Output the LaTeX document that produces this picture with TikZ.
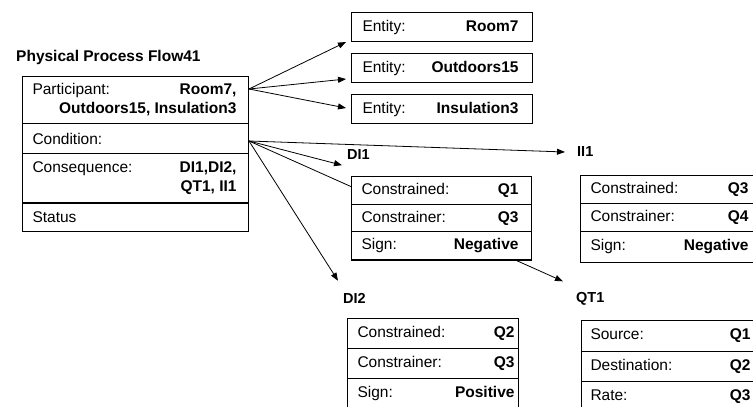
\documentclass[tikz,border=0pt]{standalone}
\usepackage{fontspec}
\setmainfont{Liberation Sans}
\usetikzlibrary{arrows.meta,calc}

\pgfdeclarelayer{bg}
\pgfsetlayers{bg,main}

% one row of a record: label on the left, bold value on the right
\newdimen\cellw \newdimen\padl \newdimen\padr
\newcommand{\valfont}{\fontsize{15.5}{19}\selectfont\bfseries}
\newcommand{\fld}[2]{\hbox to\cellw{\hskip\padl\relax #1\hfil{\valfont #2}\hskip\padr\relax}}
% a row whose value runs over two lines
\newcommand{\fldii}[3]{\vbox{\fld{#1}{#2}\fld{}{#3}}}
% width and paddings of the rows of the next record
\newcommand{\recordgeom}[3]{\global\cellw=#1pt\relax\global\padl=#2pt\relax\global\padr=#3pt\relax}

\tikzset{
  cell/.style={draw=black, line width=1pt, fill=white, anchor=north west,
               inner sep=0pt, font=\fontsize{15.5}{19}\selectfont},
  lab/.style={anchor=west, inner sep=0pt, font=\fontsize{14.5}{17}\selectfont\bfseries},
  conn/.style={draw=black, line width=0.8pt, -{Triangle[length=8pt,width=6pt]}},
  heavy/.style={draw=black, line width=2pt}
}

\begin{document}
\begin{tikzpicture}[x=1pt, y=-1pt]
\useasboundingbox (0,0) rectangle (753,407);
\clip (0,0) rectangle (753,407);

% process record
\node[lab, font=\fontsize{15.5}{17}\selectfont\bfseries] (title) at (16,57) {Physical Process Flow41};
\recordgeom{226}{10}{12}
\node[cell, minimum height=47] (part) at (22,76) {\fldii{Participant:}{Room7,}{Outdoors15, Insulation3}};
\node[cell, minimum height=30] (cond) at (22,123) {\fld{Condition:}{}};
\node[cell, minimum height=49] (cons) at (22,153) {\fldii{Consequence:}{DI1,DI2,}{QT1, II1}};
\node[cell, minimum height=29] (stat) at (22,202) {\fld{Status}{}};
\draw[heavy] (cons.south west) -- (cons.south east);

% participating entities
\recordgeom{181}{11}{14}
\node[cell, minimum height=29] (room) at (351,12) {\fld{Entity:}{Room7}};
\node[cell, minimum height=29] (outd) at (351,53) {\fld{Entity:}{Outdoors15}};
\node[cell, minimum height=29] (insu) at (351,94) {\fld{Entity:}{Insulation3}};

% DI1
\node[lab] (di1) at (347,155) {DI1};
\recordgeom{180}{10}{13}
\node[cell, minimum height=28] (di1a) at (351,176) {\fld{Constrained:}{Q1}};
\node[cell, minimum height=27] (di1b) at (351,204) {\fld{Constrainer:}{Q3}};
\node[cell, minimum height=28] (di1c) at (351,231) {\fld{Sign:}{Negative}};
\draw[heavy] (di1c.south west) -- (di1c.south east);

% II1
\node[lab] (ii1) at (577,152) {II1};
\recordgeom{190}{10}{22}
\node[cell, minimum height=28] (ii1a) at (580,175) {\fld{Constrained:}{Q3}};
\node[cell, minimum height=28] (ii1b) at (580,203) {\fld{Constrainer:}{Q4}};
\node[cell, minimum height=31] (ii1c) at (580,231) {\fld{Sign:}{Negative}};

% DI2
\node[lab] (di2) at (343,298) {DI2};
\recordgeom{171}{10}{4}
\node[cell, minimum height=30] (di2a) at (347,318) {\fld{Constrained:}{Q2}};
\node[cell, minimum height=30] (di2b) at (347,348) {\fld{Constrainer:}{Q3}};
\node[cell, minimum height=30] (di2c) at (347,378) {\fld{Sign:}{Positive}};

% QT1
\node[lab] (qt1) at (576,299) {QT1};
\recordgeom{190}{9}{21}
\node[cell, minimum height=31] (qt1a) at (581,320) {\fld{Source:}{Q1}};
\node[cell, minimum height=30] (qt1b) at (581,351) {\fld{Destination:}{Q2}};
\node[cell, minimum height=30] (qt1c) at (581,381) {\fld{Rate:}{Q3}};

% connectors, kept behind the records
\begin{pgfonlayer}{bg}
\fill[white] (0,0) rectangle (753,407);
\coordinate (pfan) at ($(part.north east)+(0,13)$);
\coordinate (cfan) at ($(cond.north east)+(0,18)$);
\draw[conn] (pfan) -- ($(room.south west)+(-5,0)$);
\draw[conn] (pfan) -- ($(outd.south west)+(-5,-4)$);
\draw[conn] (pfan) -- ($(insu.west)+(-5,-1)$);
\draw[conn] (cfan) -- ($(di1.south west)+(-5,5)$);
\draw[conn] (cfan) -- ($(ii1.west)+(-12,0)$);
\draw[conn] (cfan) -- ($(qt1.north west)+(-13,-11)$);
\draw[conn] (cfan) -- ($(di2.north west)+(-5,-12)$);
\end{pgfonlayer}
\end{tikzpicture}
\end{document}
